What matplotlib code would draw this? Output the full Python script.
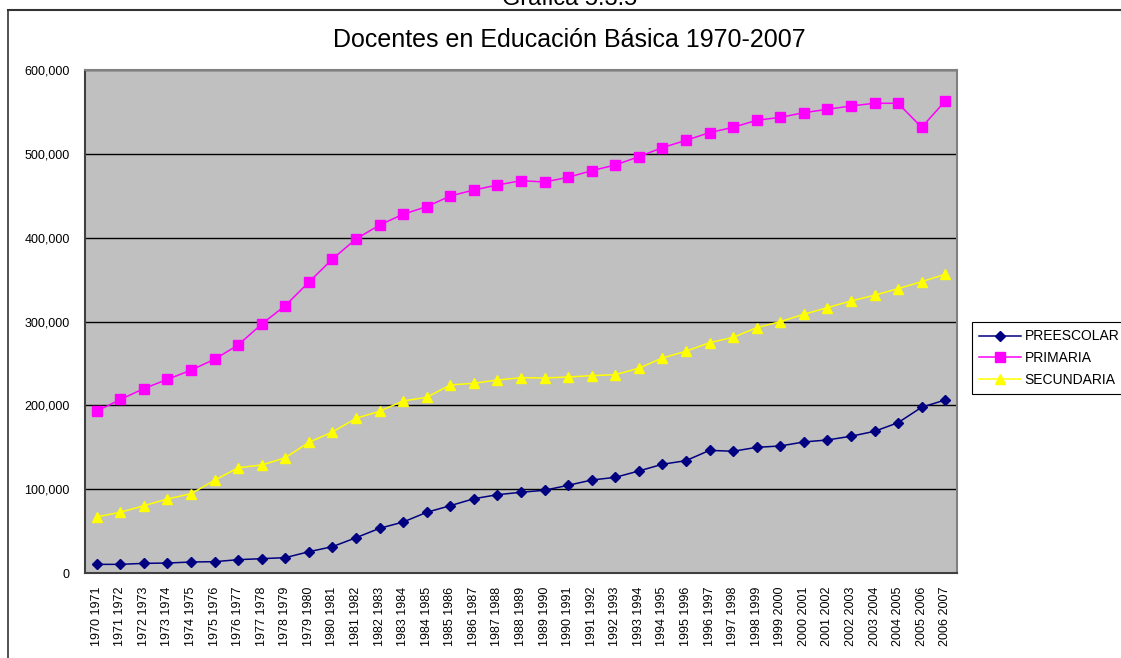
import matplotlib
matplotlib.use("Agg")
import matplotlib.pyplot as plt
from matplotlib.lines import Line2D
from matplotlib.ticker import FuncFormatter, MultipleLocator

plt.rcParams['font.family'] = ['Liberation Sans', 'DejaVu Sans']

categories = [f"{y} {y+1}" for y in range(1970, 2007)]

preescolar = [10300, 10300, 11500, 11900, 13100, 13500, 15900, 17100, 18300, 25400,
              31400, 42100, 53300, 60800, 72400, 80300, 88600, 93400, 96300, 98700,
              104600, 110900, 114100, 121700, 129700, 134000, 146300, 145200, 149900, 151500,
              156300, 158700, 163100, 169000, 179300, 197700, 206400]
primaria = [193000, 207000, 220000, 231000, 242000, 255000, 272000, 297000, 319000, 347000,
            374600, 398400, 415100, 427900, 437000, 449700, 456900, 462800, 468000, 466400,
            472000, 479900, 486700, 496600, 507400, 516100, 525300, 531600, 540000, 543500,
            549100, 553100, 557100, 560300, 560300, 531600, 563000]
secundaria = [67000, 72400, 80300, 88300, 94600, 110600, 125600, 128800, 137500, 155900,
              168200, 184500, 192900, 205200, 209600, 224300, 226300, 230200, 233000, 232600,
              233800, 235400, 236600, 244200, 256500, 264500, 274700, 281100, 292600, 299800,
              308600, 316500, 324500, 331300, 339200, 347500, 356300]

W, H = 1121, 658
fig = plt.figure(figsize=(W / 100, H / 100), dpi=100)
fig.patch.set_facecolor('white')

ax = fig.add_axes([85 / W, (H - 573) / H, 872 / W, 503 / H])
ax.set_facecolor('#C0C0C0')

x = list(range(len(categories)))
ax.plot(x, preescolar, color='#000080', marker='D', markersize=5.5, linewidth=1.1,
        label='PREESCOLAR', zorder=3)
ax.plot(x, primaria, color='#FF00FF', marker='s', markersize=7, linewidth=1.1,
        label='PRIMARIA', zorder=3)
ax.plot(x, secundaria, color='#FFFF00', marker='^', markersize=7.5, linewidth=1.1,
        label='SECUNDARIA', zorder=3)

ax.set_xlim(-0.5, len(categories) - 0.5)
ax.set_ylim(0, 600000)
ax.yaxis.set_major_locator(MultipleLocator(100000))
ax.yaxis.set_major_formatter(FuncFormatter(lambda v, p: f"{int(v):,}"))
ax.set_xticks(x)
ax.set_xticklabels(categories, rotation=90, fontsize=9)
ax.tick_params(axis='y', labelsize=9, length=0, pad=11)
ax.tick_params(axis='x', length=0, pad=10)
ax.grid(axis='y', color='black', linewidth=1)
ax.set_axisbelow(True)
for side in ['top', 'right']:
    ax.spines[side].set_color('#808080')
    ax.spines[side].set_linewidth(1.5)
for side in ['left', 'bottom']:
    ax.spines[side].set_color('#404040')
    ax.spines[side].set_linewidth(1.5)

leg = fig.legend(loc='center left', bbox_to_anchor=(972 / W, 1 - 358 / H), fontsize=10,
                 frameon=True, fancybox=False, edgecolor='black', framealpha=1,
                 handlelength=3, borderpad=0.5, labelspacing=0.55, handletextpad=0.3,
                 borderaxespad=0)
leg.get_frame().set_linewidth(0.8)

fig.text(569 / W, 1 - 40 / H, 'Docentes en Educación Básica 1970-2007', ha='center',
         va='center', fontsize=18)
fig.text(570 / W, 1 - 5 / H, 'Gráfica 5.3.5', ha='center', va='baseline', fontsize=17)

fig.add_artist(Line2D([8 / W, 1], [1 - 10 / H, 1 - 10 / H], color='#333333', linewidth=1.5))
fig.add_artist(Line2D([8 / W, 8 / W], [0, 1 - 10 / H], color='#333333', linewidth=1.2))

fig.savefig('out.png', dpi=100)
